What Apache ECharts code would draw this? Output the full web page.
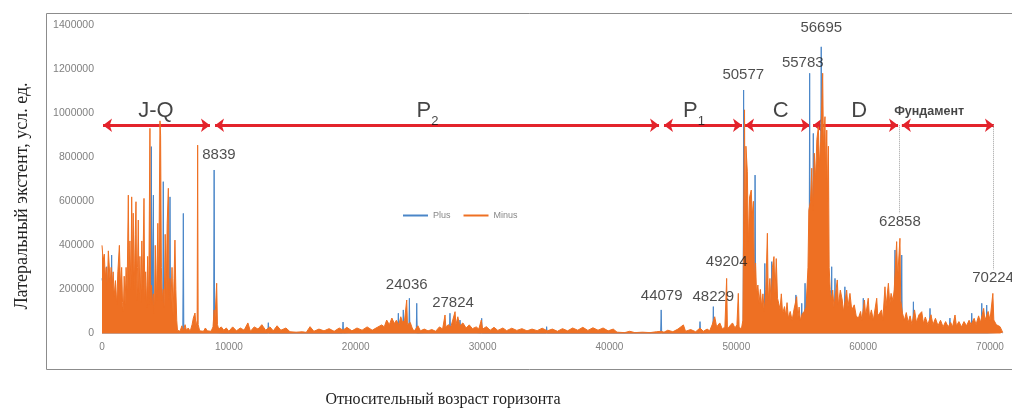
<!DOCTYPE html>
<html>
<head>
<meta charset="utf-8">
<title>Plus / Minus</title>
<script src="https://cdn.jsdelivr.net/npm/echarts@6/dist/echarts.min.js"></script>
<style>
  html, body { margin: 0; padding: 0; background: #fff; }
  #chart { width: 1012px; height: 408px; }
</style>
</head>
<body>
<div id="chart"></div>
<script>
// values, [relative age, lateral extent]
var minusJQ = [
  [0, 400000], [90, 330000], [180, 360000], [260, 250000], [330, 300000], [420, 200000],
  [500, 375000], [580, 380000], [650, 230000], [720, 300000], [800, 210000], [880, 280000],
  [960, 170000], [1060, 240000], [1160, 130000], [1250, 280000], [1370, 400000], [1450, 220000],
  [1550, 300000], [1620, 140000], [1680, 100000], [1750, 260000], [1820, 130000], [1900, 300000],
  [1980, 200000], [2075, 628000], [2130, 250000], [2200, 420000], [2280, 200000], [2340, 620000],
  [2400, 300000], [2460, 546000], [2540, 200000], [2620, 450000], [2680, 598000], [2740, 150000],
  [2800, 300000], [2860, 515000], [2920, 180000], [2990, 350000], [3060, 140000], [3140, 420000],
  [3200, 200000], [3310, 613000], [3370, 160000], [3440, 280000], [3520, 120000], [3600, 350000],
  [3680, 130000], [3780, 931000], [3830, 140000], [3900, 220000], [3970, 130000], [4050, 180000],
  [4130, 90000], [4200, 400000], [4300, 150000], [4400, 500000], [4470, 200000], [4570, 965000],
  [4620, 900000], [4680, 300000], [4750, 150000], [4830, 200000], [4900, 120000], [4980, 450000],
  [5060, 180000], [5140, 500000], [5230, 659000], [5290, 150000], [5360, 250000], [5430, 120000],
  [5520, 300000], [5600, 80000], [5680, 250000], [5750, 424000], [5820, 200000], [5890, 60000],
  [5950, 15000], [6050, 20000], [6150, 10000], [6300, 35000], [6400, 10000], [6550, 40000],
  [6650, 15000], [6800, 25000], [6950, 10000], [7100, 40000], [7200, 70000], [7330, 93000],
  [7420, 30000], [7500, 60000], [7540, 855000], [7580, 40000], [7700, 12000], [7850, 20000],
  [8000, 10000], [8150, 25000], [8300, 12000], [8450, 20000], [8600, 10000], [8750, 30000],
  [8839, 107000], [8900, 60000], [9040, 228000], [9100, 40000], [9200, 20000], [9400, 30000],
  [9600, 15000]
];
var minusP2 = [
  [9800, 25000], [10000, 10000], [10300, 30000], [10600, 12000], [10900, 25000], [11200, 15000],
  [11500, 48000], [11700, 10000], [12000, 30000], [12300, 20000], [12600, 40000], [12900, 15000],
  [13240, 30000], [13500, 12000], [13800, 35000], [14100, 15000], [14500, 25000], [14820, 8000],
  [15300, 6000], [15800, 8000], [16100, 5000], [16400, 31000], [16700, 10000], [17100, 20000],
  [17500, 12000], [17900, 22000], [18300, 10000], [18700, 25000], [19000, 15000], [19300, 28000],
  [19700, 12000], [20100, 25000], [20500, 15000], [20900, 30000], [21300, 15000], [21700, 28000],
  [22050, 39000], [22250, 30000], [22440, 61000], [22650, 40000], [22850, 70000], [23050, 45000],
  [23200, 60000], [23400, 40000], [23550, 76000], [23700, 50000], [23850, 60000], [24020, 152000],
  [24080, 40000], [24300, 50000], [24450, 25000], [24600, 10000], [24900, 35000], [25100, 12000],
  [25400, 20000], [25700, 12000], [26000, 18000], [26300, 10000], [26600, 30000], [26850, 20000],
  [27040, 84000], [27100, 30000], [27300, 40000], [27500, 30000], [27830, 99000], [27900, 40000],
  [28050, 76000], [28200, 35000], [28450, 48000], [28700, 25000], [28950, 39000], [29200, 22000],
  [29500, 30000], [29700, 20000], [29900, 61000], [30000, 20000], [30300, 31000], [30600, 15000],
  [30900, 28000], [31200, 14000], [31600, 25000], [31900, 13000], [32300, 24000], [32700, 14000],
  [33100, 22000], [33500, 12000], [33900, 20000], [34300, 13000], [34700, 24000], [35100, 12000],
  [35500, 20000], [35900, 10000], [36300, 22000], [36700, 12000], [37100, 25000], [37500, 15000],
  [37900, 28000], [38300, 14000], [38700, 26000], [39100, 15000], [39500, 25000], [39900, 12000],
  [40300, 20000], [40600, 6000], [41200, 4000], [41600, 10000], [42000, 4000], [42600, 6000],
  [43200, 4000], [43700, 8000], [44079, 10000], [44300, 6000]
];
var minusP1 = [
  [44600, 15000], [45000, 8000], [45400, 20000], [45830, 39000], [46000, 10000], [46400, 18000],
  [46800, 8000], [47140, 25000], [47400, 10000], [47700, 20000], [47900, 12000], [48100, 40000],
  [48300, 76000], [48450, 30000], [48700, 48000], [48900, 20000], [49100, 30000], [49240, 250000],
  [49300, 20000], [49500, 35000], [49700, 48000], [49900, 25000], [50050, 40000], [50160, 182000],
  [50220, 30000], [50400, 20000], [50520, 60000]
];
var minusC = [
  [50650, 1015000], [50700, 300000], [50760, 850000], [50870, 734000], [50950, 400000], [51050, 620000],
  [51180, 651000], [51250, 530000], [51350, 600000], [51420, 250000], [51520, 320000], [51600, 175000],
  [51700, 220000], [51800, 138000], [51900, 200000], [52000, 120000], [52100, 180000], [52200, 100000],
  [52330, 200000], [52450, 455000], [52520, 150000], [52650, 250000], [52750, 130000], [52850, 300000],
  [52970, 349000], [53050, 180000], [53150, 340000], [53250, 160000], [53350, 167000], [53450, 110000],
  [53550, 180000], [53650, 90000], [53800, 122000], [53900, 80000], [54000, 140000], [54100, 70000],
  [54250, 100000], [54400, 60000], [54550, 110000], [54760, 167000], [54850, 70000], [54950, 120000],
  [55050, 60000], [55200, 90000], [55350, 100000], [55500, 120000], [55650, 300000], [55720, 560000]
];
var minusD = [
  [55850, 600000], [55950, 750000], [56020, 560000], [56150, 818000], [56250, 700000], [56350, 880000],
  [56470, 938000], [56550, 760000], [56650, 870000], [56810, 1181000], [56870, 850000], [56990, 984000],
  [57050, 700000], [57130, 923000], [57200, 600000], [57260, 850000], [57320, 300000], [57400, 200000],
  [57520, 150000], [57600, 197000], [57700, 120000], [57960, 243000], [58050, 130000], [58200, 197000],
  [58350, 152000], [58450, 100000], [58700, 197000], [58800, 120000], [58960, 182000], [59100, 107000],
  [59300, 130000], [59450, 80000], [59620, 69000], [59800, 100000], [59900, 60000], [60100, 152000],
  [60200, 80000], [60400, 160000], [60500, 70000], [60650, 107000], [60800, 60000], [61070, 160000],
  [61150, 80000], [61300, 92000], [61450, 107000], [61550, 60000], [61720, 212000], [61800, 120000],
  [61990, 228000], [62100, 130000], [62200, 182000], [62350, 150000], [62450, 200000], [62640, 417000],
  [62720, 250000], [62900, 432000], [62960, 150000]
];
var minusBase = [
  [63100, 92000], [63250, 60000], [63400, 95000], [63550, 50000], [63700, 80000], [63850, 40000],
  [64050, 107000], [64200, 50000], [64400, 85000], [64620, 99000], [64750, 45000], [64900, 75000],
  [65100, 40000], [65350, 85000], [65500, 40000], [65700, 69000], [65900, 35000], [66100, 60000],
  [66300, 30000], [66500, 54000], [66700, 30000], [66900, 50000], [67050, 30000], [67240, 84000],
  [67350, 35000], [67550, 54000], [67750, 30000], [67950, 54000], [68150, 35000], [68350, 60000],
  [68500, 40000], [68750, 69000], [68900, 40000], [69100, 80000], [69250, 50000], [69500, 114000],
  [69600, 60000], [69850, 100000], [70000, 60000], [70224, 182000], [70300, 61000], [70500, 40000],
  [70790, 31000], [71000, 5000]
];

var plusJQ = [
  [0, 250000], [300, 150000], [370, 303000], [440, 120000], [700, 140000], [760, 356000],
  [820, 90000], [1500, 80000], [2000, 60000], [3000, 60000], [3850, 60000], [3890, 848000],
  [3930, 60000], [4010, 60000], [4050, 628000], [4090, 60000], [4790, 60000], [4830, 689000],
  [4870, 60000], [5320, 60000], [5360, 620000], [5400, 50000], [5900, 10000], [6370, 5000],
  [6410, 545000], [6450, 5000], [8800, 5000], [8839, 742000], [8880, 5000]
];
var plusP2 = [
  [9500, 3000], [13070, 3000], [13110, 49000], [13150, 3000], [18960, 3000], [19000, 52000],
  [19040, 3000], [23320, 20000], [23360, 92000], [23400, 20000], [23710, 20000], [23750, 107000],
  [23790, 20000], [24190, 20000], [24230, 160000], [24270, 20000], [24770, 3000], [24810, 137000],
  [24850, 3000], [27390, 10000], [27430, 92000], [27470, 10000], [28180, 10000], [28220, 61000],
  [28260, 10000], [29890, 3000], [29930, 69000], [29970, 3000], [35010, 3000], [35050, 31000],
  [35090, 3000], [44039, 3000]
];
var plusP1C = [
  [44079, 107000], [44119, 3000], [47100, 3000], [47140, 54000], [47180, 3000], [48150, 5000],
  [48190, 122000], [48230, 5000], [50540, 5000], [50577, 1105000], [50615, 200000], [51440, 150000],
  [51480, 719000], [51520, 140000], [52210, 70000], [52250, 318000], [52290, 70000], [52750, 70000],
  [52790, 326000], [52830, 50000], [54660, 40000], [54700, 175000], [54740, 40000], [55120, 40000],
  [55160, 137000], [55200, 40000], [55380, 40000], [55420, 228000], [55460, 60000]
];
var plusD = [
  [55745, 300000], [55783, 1181000], [55820, 400000], [56030, 500000], [56070, 908000], [56110, 500000],
  [56655, 800000], [56695, 1301000], [56735, 800000], [57300, 150000], [57480, 25000], [57520, 303000],
  [57560, 25000], [57740, 25000], [57780, 250000], [57820, 25000], [58520, 25000], [58560, 212000],
  [58600, 25000], [59970, 25000], [60010, 160000], [60050, 25000], [62470, 25000], [62510, 379000],
  [62550, 25000], [63000, 25000], [63040, 356000], [63080, 25000], [63920, 25000], [63960, 144000],
  [64000, 25000], [65230, 25000], [65270, 114000], [65310, 25000], [66800, 25000], [66840, 70000],
  [66880, 25000], [68520, 25000], [68560, 92000], [68600, 25000], [69310, 25000], [69350, 137000],
  [69390, 25000], [69700, 25000], [69740, 129000], [69780, 25000], [71000, 3000]
];

// stratigraphic intervals (double arrows, tip to tip) and their names
var sectionNames = ['J-Q', 'P2', 'P1', 'C', 'D', 'Фундамент'];
var sectionFrom = [80, 8910, 44300, 50690, 56050, 63050];
var sectionTo = [8510, 43910, 50450, 55810, 62750, 70310];
var sectionLabelX = [4250, 25660, 46670, 53490, 59680, 65200];
var arrowLevel = 945000;
var sectionLabelLevel = 1008000;

// peak ages written on the chart and where their numbers sit
var peakText = ['8839', '24036', '27824', '44079', '48229', '49204', '50577', '55783', '56695', '62858', '70224'];
var peakLabelX = [9220, 24020, 27670, 44120, 48190, 49240, 50550, 55240, 56700, 62900, 70240];
var peakLabelY = [810000, 220000, 140000, 170000, 167000, 323000, 1176000, 1229000, 1385000, 507000, 252000];

// dotted guides from the arrows down to the labels
var guideX = [62858, 70224];
var guideBottom = [545000, 290000];

var yTicks = [0, 200000, 400000, 600000, 800000, 1000000, 1200000, 1400000];

var blue = '#4A86C8';
var orange = '#EE7023';
var red = '#E3232B';
var sans = "'Liberation Sans', Arial, sans-serif";
var serif = "'Liberation Serif', 'Times New Roman', serif";

function drawChart() {
  var chart = echarts.init(document.getElementById('chart'), null, { renderer: 'canvas' });

  var arrowLines = [];
  for (var i = 0; i < sectionNames.length; i++) {
    arrowLines.push([
      { coord: [sectionFrom[i], arrowLevel] },
      { coord: [sectionTo[i], arrowLevel] }
    ]);
  }
  var guideLines = [];
  for (var g = 0; g < guideX.length; g++) {
    guideLines.push([
      { coord: [guideX[g], arrowLevel] },
      { coord: [guideX[g], guideBottom[g]] }
    ]);
  }

  var sectionData = sectionNames.map(function (n, i) {
    return [sectionLabelX[i], sectionLabelLevel, n];
  });
  var peakData = peakText.map(function (t, i) {
    return [peakLabelX[i], peakLabelY[i], t];
  });

  var option = {
    animation: false,
    backgroundColor: '#fff',
    grid: { left: 102, right: 9.3, top: 25, bottom: 74.5 },
    legend: {
      data: ['Plus', 'Minus'],
      left: 403,
      top: 211,
      padding: 0,
      icon: 'rect',
      itemWidth: 25,
      itemHeight: 2,
      itemGap: 13,
      textStyle: { color: '#888', fontSize: 9, fontFamily: sans }
    },
    xAxis: {
      type: 'value',
      min: 0,
      max: 71000,
      interval: 10000,
      axisLine: { show: false },
      axisTick: { show: false },
      splitLine: { show: false },
      axisLabel: {
        color: '#808080', fontSize: 10, fontFamily: sans, margin: 9,
        showMaxLabel: false,
        formatter: function (v) { return String(v); }
      }
    },
    yAxis: {
      type: 'value',
      min: 0,
      max: yTicks[yTicks.length - 1],
      interval: yTicks[1] - yTicks[0],
      axisLine: { show: false },
      axisTick: { show: false },
      splitLine: { show: false },
      axisLabel: {
        color: '#808080', fontSize: 10.5, fontFamily: sans, margin: 8,
        formatter: function (v) { return String(v); }
      }
    },
    series: [
      {
        name: 'arrows',
        type: 'line',
        data: [],
        z: 1,
        silent: true,
        markLine: {
          silent: true,
          z: 1,
          animation: false,
          symbol: ['arrow', 'arrow'],
          symbolSize: [10, 9],
          label: { show: false },
          lineStyle: { color: red, width: 3, type: 'solid' },
          emphasis: { disabled: true },
          data: arrowLines
        }
      },
      {
        name: 'guides',
        type: 'line',
        data: [],
        z: 1,
        silent: true,
        markLine: {
          silent: true,
          z: 1,
          animation: false,
          symbol: ['none', 'none'],
          label: { show: false },
          lineStyle: { color: '#a0a0a0', width: 1, type: 'dotted' },
          emphasis: { disabled: true },
          data: guideLines
        }
      },
      {
        name: 'Plus',
        type: 'line',
        z: 2,
        symbol: 'none',
        color: blue,
        lineStyle: { width: 1, color: blue },
        areaStyle: { color: blue, opacity: 1 },
        emphasis: { disabled: true },
        data: plusJQ.concat(plusP2, plusP1C, plusD)
      },
      {
        name: 'Minus',
        type: 'line',
        z: 3,
        symbol: 'none',
        color: orange,
        lineStyle: { width: 1, color: orange },
        areaStyle: { color: orange, opacity: 1 },
        emphasis: { disabled: true },
        data: minusJQ.concat(minusP2, minusP1, minusC, minusD, minusBase)
      },
      {
        name: 'sections',
        type: 'scatter',
        z: 10,
        silent: true,
        symbolSize: 1,
        itemStyle: { color: 'transparent' },
        label: {
          show: true,
          position: 'inside',
          color: '#1a1a1a',
          fontFamily: sans,
          formatter: function (p) {
            var t = p.value[2];
            if (t === 'P2' || t === 'P1') return '{b|P}{s|' + t.charAt(1) + '}';
            if (t === 'Фундамент') return '{f|' + t + '}';
            return '{b|' + t + '}';
          },
          rich: {
            b: { fontSize: 22, lineHeight: 34, fontFamily: sans, color: '#151515' },
            s: { fontSize: 13, lineHeight: 18, verticalAlign: 'bottom', fontFamily: sans, color: '#151515' },
            f: { fontSize: 12.5, fontWeight: 'bold', fontFamily: sans, color: '#151515' }
          }
        },
        data: sectionData
      },
      {
        name: 'peaks',
        type: 'scatter',
        z: 10,
        silent: true,
        symbolSize: 1,
        itemStyle: { color: 'transparent' },
        label: {
          show: true,
          position: 'inside',
          color: '#1f1f1f',
          fontSize: 15,
          fontFamily: sans,
          formatter: function (p) { return p.value[2]; }
        },
        data: peakData
      }
    ],
    graphic: [
      {
        type: 'rect',
        silent: true,
        shape: { x: 46.5, y: 13.5, width: 1000, height: 356 },
        style: { fill: 'none', stroke: '#8c8c8c', lineWidth: 1 }
      },
      {
        type: 'text',
        silent: true,
        x: 22,
        y: 196,
        rotation: Math.PI / 2,
        style: {
          text: 'Латеральный экстент, усл. ед.',
          font: '18px ' + serif,
          fill: '#222',
          align: 'center',
          verticalAlign: 'middle'
        }
      },
      {
        type: 'text',
        silent: true,
        x: 443,
        y: 400,
        style: {
          text: 'Относительный возраст горизонта',
          font: '16px ' + serif,
          fill: '#222',
          align: 'center',
          verticalAlign: 'middle'
        }
      }
    ]
  };

  chart.setOption(option);
}

drawChart();
</script>
</body>
</html>
